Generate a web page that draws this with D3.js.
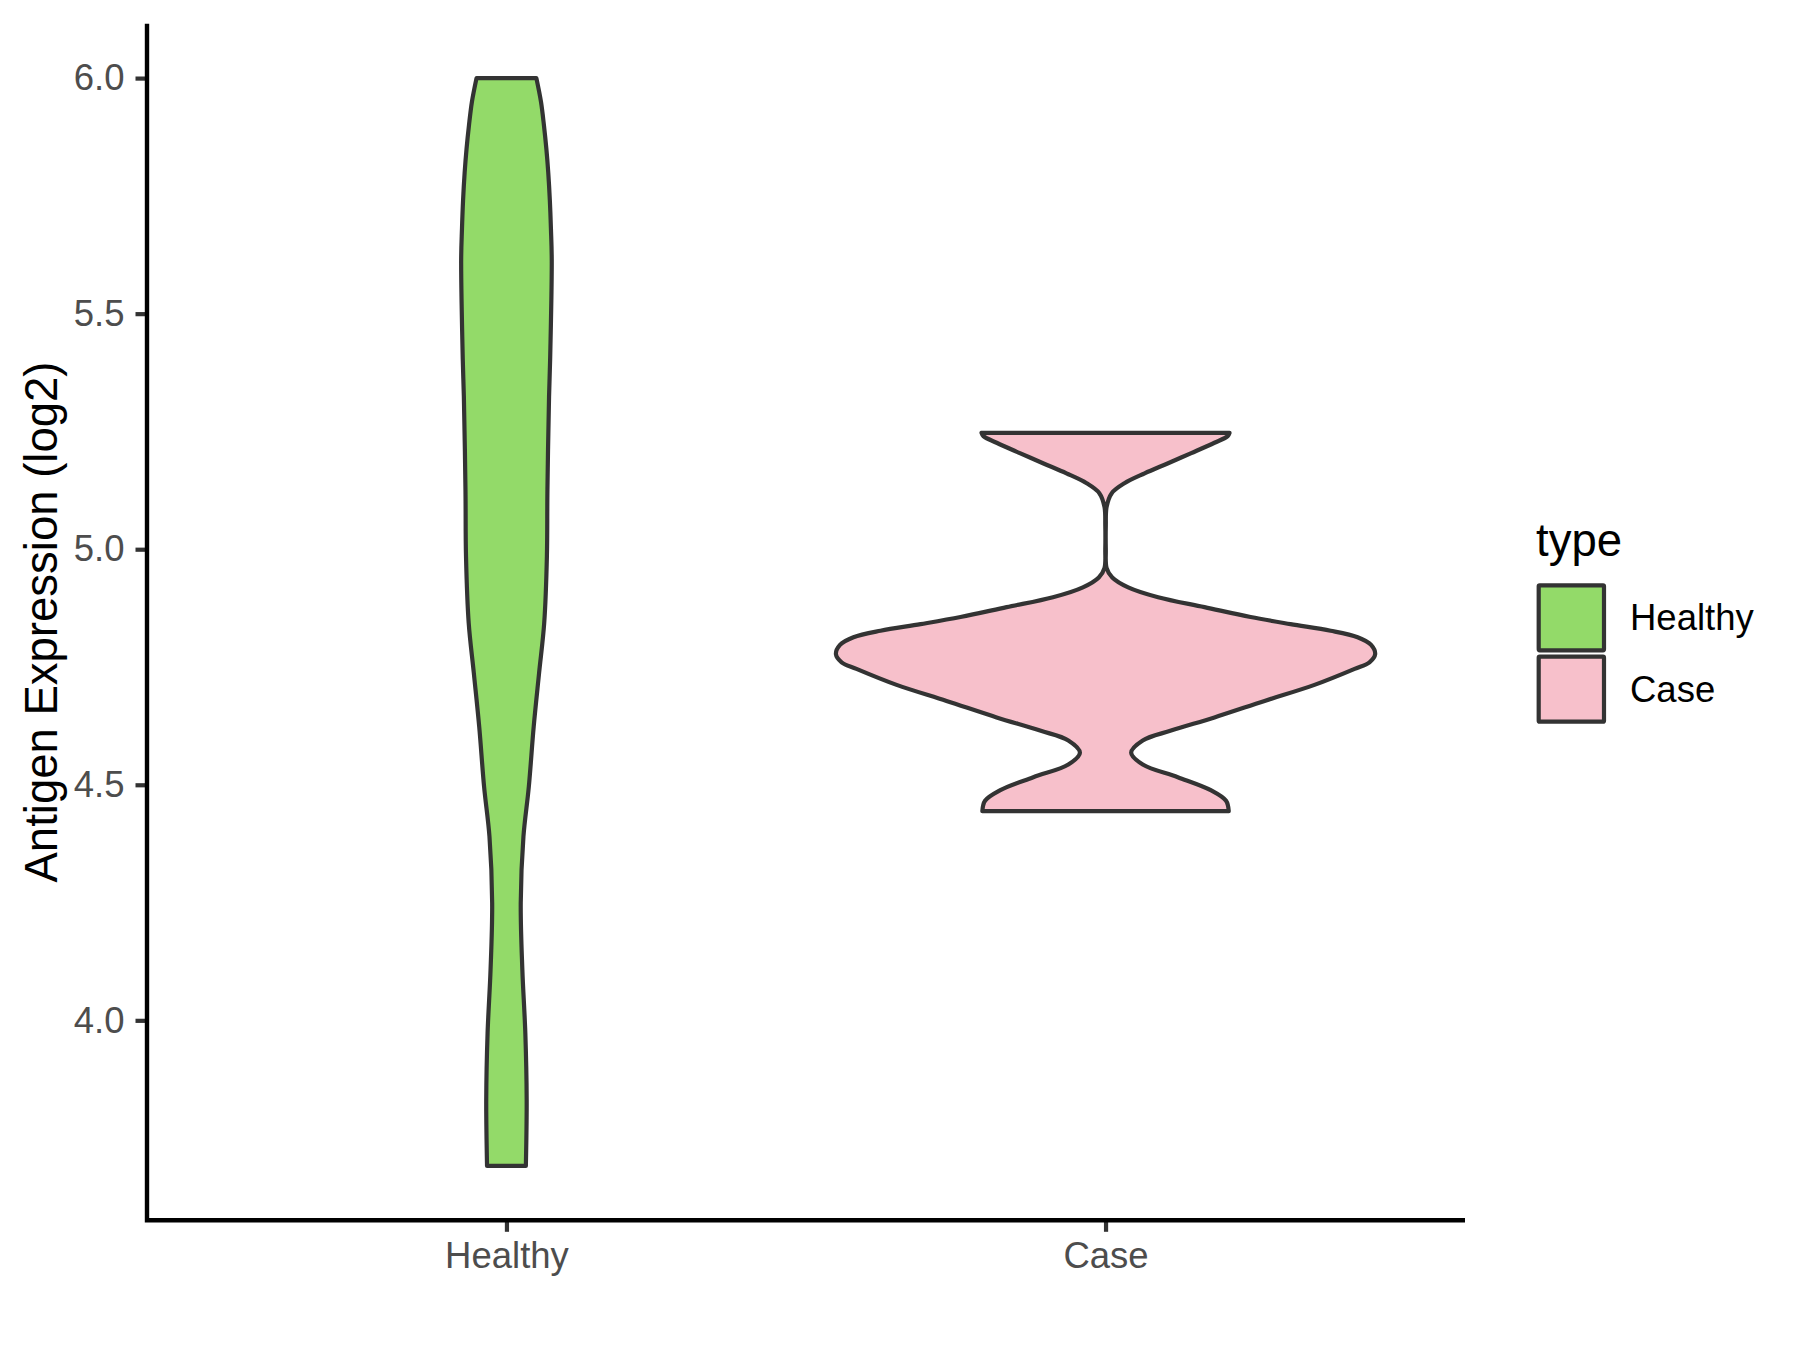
<!DOCTYPE html>
<html>
<head>
<meta charset="utf-8">
<script src="https://cdn.jsdelivr.net/npm/d3@7"></script>
<style>
  html, body { margin: 0; padding: 0; background: #ffffff; }
  svg { display: block; }
</style>
</head>
<body>
<svg id="chart" width="1800" height="1350"></svg>
<script>
// ---------------- data ----------------
const categories = ["Healthy", "Case"];
const fillColors = ["#93DA69", "#F7C0CB"];
const yTicks = [4.0, 4.5, 5.0, 5.5, 6.0];
const yTitle = "Antigen Expression (log2)";
const legendTitle = "type";

// Violin outlines: expression value and relative half-width (Case max = 1)
const healthyValues = [6.0, 5.95, 5.90, 5.85, 5.80, 5.74, 5.68, 5.614, 5.402, 5.324, 5.126, 4.984, 4.843, 4.737, 4.623, 4.496, 4.390, 4.249, 4.107, 3.973, 3.831, 3.691];
const healthyWidths = [0.111, 0.128, 0.139, 0.148, 0.155, 0.161, 0.165, 0.168, 0.162, 0.158, 0.152, 0.150, 0.140, 0.121, 0.101, 0.083, 0.063, 0.053, 0.059, 0.070, 0.075, 0.072];

const caseValues = [5.247, 5.240, 5.226, 5.204, 5.182, 5.161, 5.140, 5.119, 5.090, 5.050, 5.000, 4.960, 4.940, 4.919, 4.898, 4.877, 4.856, 4.841, 4.827, 4.813, 4.797, 4.777, 4.760, 4.746, 4.712, 4.678, 4.643, 4.615, 4.594, 4.568, 4.543, 4.516, 4.488, 4.466, 4.444];
const caseWidths = [0.460, 0.453, 0.404, 0.318, 0.230, 0.145, 0.070, 0.023, 0.004, 0.001, 0.001, 0.004, 0.025, 0.084, 0.195, 0.367, 0.538, 0.686, 0.835, 0.935, 0.985, 1.000, 0.979, 0.924, 0.775, 0.590, 0.404, 0.243, 0.138, 0.095, 0.138, 0.268, 0.392, 0.447, 0.457];

const violinValues = [healthyValues, caseValues];
const violinWidths = [healthyWidths, caseWidths];

// ---------------- layout ----------------
const panel = { left: 147, right: 1465, top: 23.7, bottom: 1220.3 };
const font = "'Liberation Sans', Arial, Helvetica, sans-serif";

const svg = d3.select("#chart");

const dataMin = d3.min(violinValues, a => d3.min(a));
const dataMax = d3.max(violinValues, a => d3.max(a));
const pad = (dataMax - dataMin) * 0.05;

const y = d3.scaleLinear()
  .domain([dataMin - pad, dataMax + pad])
  .range([panel.bottom, panel.top]);

const x = d3.scalePoint()
  .domain(categories)
  .range([panel.left, panel.right])
  .padding(0.6);

const halfMax = 0.45 * x.step();

// ---------------- violins ----------------
categories.forEach((cat, i) => {
  const cx = x(cat);
  const pts = violinValues[i].map((v, j) => ({ v: v, w: violinWidths[i][j] }));
  const area = d3.area()
    .y(d => y(d.v))
    .x0(d => cx - d.w * halfMax)
    .x1(d => cx + d.w * halfMax)
    .curve(d3.curveCatmullRom.alpha(0.5));
  svg.append("path")
    .datum(pts)
    .attr("d", area)
    .attr("fill", fillColors[i])
    .attr("stroke", "#333333")
    .attr("stroke-width", 4.2)
    .attr("stroke-linejoin", "round");
});

// ---------------- axes ----------------
const yAxis = d3.axisLeft(y)
  .tickValues(yTicks)
  .tickFormat(d3.format(".1f"))
  .tickSize(11.5)
  .tickSizeOuter(0)
  .tickPadding(11);

const gy = svg.append("g")
  .attr("transform", `translate(${panel.left},0)`)
  .call(yAxis);

const xAxis = d3.axisBottom(x)
  .tickSize(11.5)
  .tickSizeOuter(0)
  .tickPadding(10.2);

const gx = svg.append("g")
  .attr("transform", `translate(0,${panel.bottom})`)
  .call(xAxis);

[gx, gy].forEach(g => {
  g.select(".domain").remove();
  g.selectAll(".tick line").attr("stroke", "#333333").attr("stroke-width", 4.2);
  g.selectAll(".tick text")
    .attr("fill", "#4D4D4D")
    .style("font-family", font)
    .style("font-size", "36.5px");
});

// axis lines (theme_classic)
svg.append("path")
  .attr("d", `M${panel.left},${panel.top} L${panel.left},${panel.bottom} L${panel.right},${panel.bottom}`)
  .attr("fill", "none")
  .attr("stroke", "#000000")
  .attr("stroke-width", 4.4)
  .attr("stroke-linecap", "butt")
  .attr("stroke-linejoin", "miter");

// y axis title
svg.append("text")
  .attr("transform", `translate(57,${(panel.top + panel.bottom) / 2}) rotate(-90)`)
  .attr("text-anchor", "middle")
  .style("font-family", font)
  .style("font-size", "45.5px")
  .attr("fill", "#000000")
  .text(yTitle);

// ---------------- legend ----------------
const lg = svg.append("g");
lg.append("text")
  .attr("x", 1536)
  .attr("y", 556)
  .style("font-family", font)
  .style("font-size", "45.5px")
  .attr("fill", "#000000")
  .text(legendTitle);

const keyTops = [585.3, 656.7];
categories.forEach((cat, i) => {
  lg.append("rect")
    .attr("x", 1538.7)
    .attr("y", keyTops[i])
    .attr("width", 65.3)
    .attr("height", 65)
    .attr("fill", fillColors[i])
    .attr("stroke", "#333333")
    .attr("stroke-width", 4.2)
    .attr("rx", 1);
  lg.append("text")
    .attr("x", 1630)
    .attr("y", keyTops[i] + 32.5 + 12.5)
    .style("font-family", font)
    .style("font-size", "36.5px")
    .attr("fill", "#000000")
    .text(cat);
});
</script>
</body>
</html>
